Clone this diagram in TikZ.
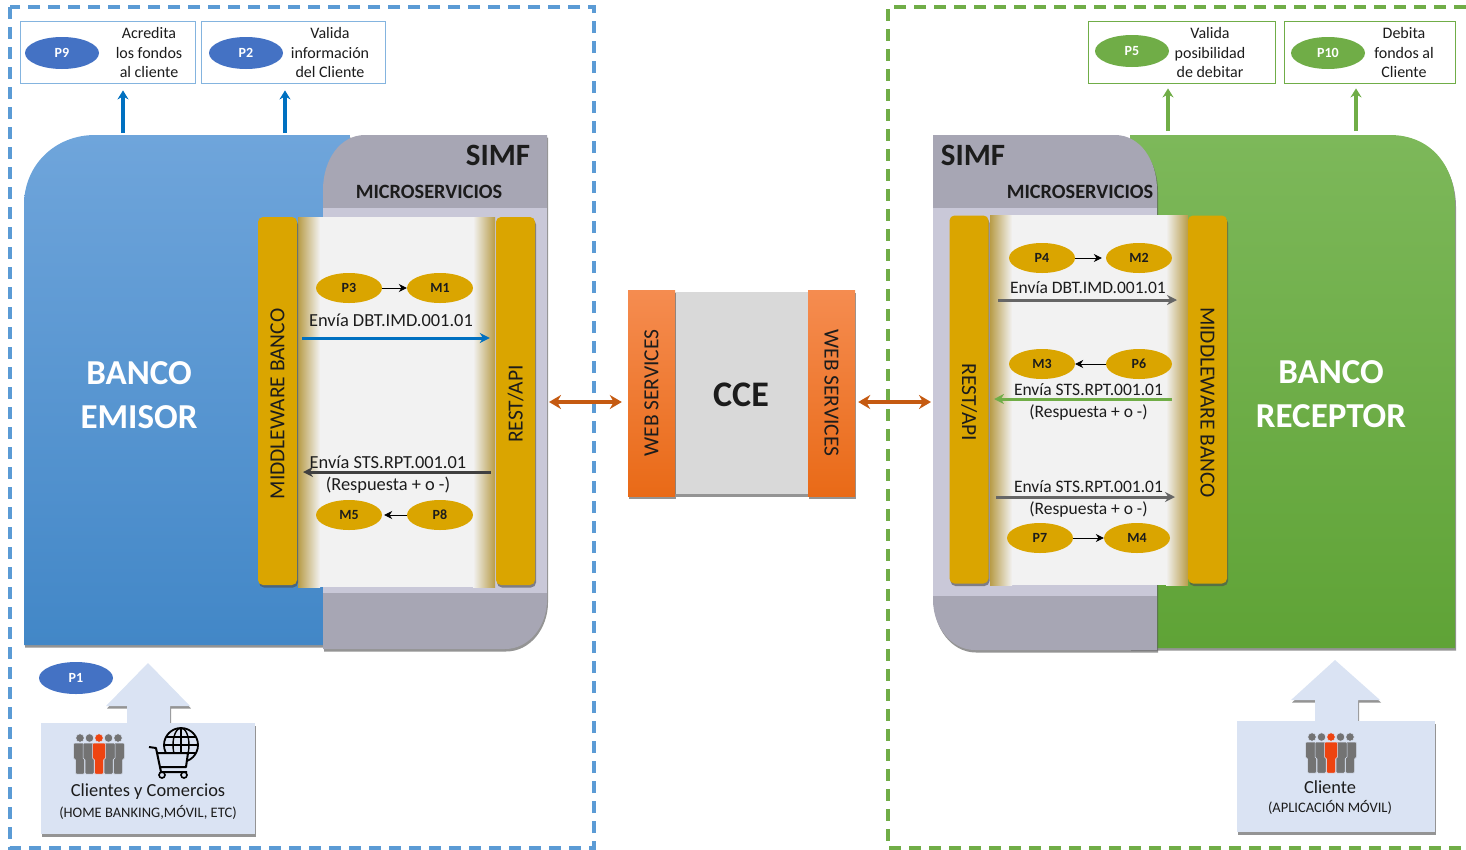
\documentclass[tikz,border=0pt]{standalone}
\usepackage{fontspec}
\setmainfont{Carlito}
\usetikzlibrary{arrows.meta,shapes.geometric,shadows}

\definecolor{gold}{HTML}{DAA500}
\definecolor{goldedge}{HTML}{B89C48}
\definecolor{greyband}{HTML}{A7A6B4}
\definecolor{lightband}{HTML}{C9C8D8}
\definecolor{paleblue}{HTML}{DAE3F3}
\definecolor{dashblue}{HTML}{5B9BD5}
\definecolor{dashgreen}{HTML}{70AD47}
\definecolor{procblue}{HTML}{4472C4}
\definecolor{arrowblue}{HTML}{0070C0}
\definecolor{rust}{HTML}{C55A11}
\definecolor{ink}{HTML}{1C1C1C}
\definecolor{bluetop}{HTML}{6FA5DB}
\definecolor{bluelow}{HTML}{4287C7}
\definecolor{greentop}{HTML}{7DB85A}
\definecolor{greenlow}{HTML}{5FA336}
\definecolor{wstop}{HTML}{F58C50}
\definecolor{wslow}{HTML}{E96A17}
\definecolor{redman}{HTML}{EE4411}

\tikzset{
  softshadow/.style={drop shadow={shadow xshift=1pt,shadow yshift=-2.5pt,opacity=.6,fill=black!70}},
  frameline/.style={line width=3.5pt,dash pattern=on 12pt off 8pt},
  stepbox/.style={draw,fill=white,line width=.8pt,inner sep=0pt},
  proc/.style={ellipse,inner sep=0pt,minimum width=74pt,minimum height=32pt,text=white,font=\fontsize{14}{16}\selectfont\bfseries},
  msg/.style={ellipse,fill=gold,inner sep=0pt,minimum width=66pt,minimum height=30pt,text=ink,font=\fontsize{14}{16}\selectfont\bfseries},
  txt/.style={text=ink,align=center,inner sep=0pt,font=\fontsize{16}{19.5}\selectfont},
  flow/.style={text=ink,align=center,inner sep=0pt,font=\fontsize{18.4}{22}\selectfont},
  flowr/.style={flow,font=\fontsize{17.5}{21.5}\selectfont},
  bigbank/.style={text=white,inner sep=0pt,font=\fontsize{35}{44}\selectfont\bfseries,align=center},
  head/.style={text=ink,inner sep=0pt,font=\fontsize{20.3}{25}\selectfont\bfseries},
  barbox/.style={fill=gold,rounded corners=5pt,inner sep=0pt,minimum width=368pt,minimum height=39pt,softshadow,text=ink,font=\fontsize{21.5}{24}\selectfont},
  wsbox/.style={top color=wstop,bottom color=wslow,inner sep=0pt,minimum width=206pt,minimum height=47pt,text=ink,softshadow,font=\fontsize{21.5}{24}\selectfont},
  upflow/.style={-{Stealth[length=9pt,width=11pt]},line width=3.4pt},
  thinflow/.style={-{Stealth[length=8pt,width=8pt]},black,line width=.9pt},
  midflow/.style={-{Stealth[length=10pt,width=10pt]},line width=3pt},
  bothflow/.style={{Stealth[length=12pt,width=14pt]}-{Stealth[length=12pt,width=14pt]},rust,line width=3.6pt},
  oneman/.pic={
    \fill[pic actions] (0,-16) circle (4.2);
    \path[pic actions,rounded corners=1pt] (-6.5,-11) -- (6.5,-11) -- (6.5,5) -- (4.5,5) -- (4.5,20)
      -- (-4.5,20) -- (-4.5,5) -- (-6.5,5) -- cycle;
  },
  people/.pic={
    \foreach \dx in {-19,19,-9.5,9.5} {
      \pic[fill=black!55,draw=paleblue,line width=.5pt] at (\dx,0) {oneman};
    }
    \pic[fill=redman,draw=paleblue,line width=.5pt] at (0,0) {oneman};
  },
  webcart/.pic={
    \draw[line width=1.8pt] (0,-9) circle (17);
    \draw[line width=1.4pt] (0,-9) ellipse [x radius=8,y radius=17];
    \draw[line width=1.4pt] (0,-26) -- (0,8) (-15,-17) -- (15,-17) (-17,-9) -- (17,-9) (-15,-1) -- (15,-1);
    \fill[paleblue] (-22,-1) rectangle (7,14);
    \draw[line width=2pt,line join=round] (-32,-7) -- (-25,-6) -- (-20,18) -- (6,18) (-23,-1) -- (7,-1) -- (5,13) -- (-21,13);
    \draw[line width=1.6pt] (-19,21) circle (3) (3,21) circle (3);
  }
}

\begin{document}
\begin{tikzpicture}[x=1pt,y=-1pt]
  \useasboundingbox (0,0) rectangle (1466,849);

  % dashed frames
  \draw[frameline,dashblue] (10,7) rectangle (594,848);
  \draw[frameline,dashgreen] (1466,7) -- (888,7) -- (888,848) -- (1466,848);

  % emisor side
  \path[softshadow,top color=bluetop,bottom color=bluelow]
    (24,645) -- (24,205) .. controls (24,165) and (55,135) .. (95,135) -- (350,135) -- (350,645) -- cycle;
  \path[fill=greyband,softshadow] (323,190) .. controls (323,160) and (340,135) .. (365,135) -- (547,135)
    -- (547,600) .. controls (547,625) and (530,649) .. (505,649) -- (323,649) -- cycle;
  \fill[lightband] (323,208) rectangle (547,593);
  \fill[black!5] (298,217) rectangle (495,587);
  \shade[left color=goldedge,right color=black!5] (298,217) rectangle (320,587);
  \shade[right color=goldedge,left color=black!5] (473,217) rectangle (495,587);

  % receptor side
  \path[softshadow,top color=greentop,bottom color=greenlow]
    (1130,648) -- (1130,135) -- (1390,135) .. controls (1430,135) and (1455,165) .. (1455,205) -- (1455,648) -- cycle;
  \path[fill=greyband,softshadow] (1157,190) .. controls (1157,160) and (1140,135) .. (1115,135) -- (933,135)
    -- (933,600) .. controls (933,625) and (950,650) .. (975,650) -- (1157,650) -- cycle;
  \fill[lightband] (933,208) rectangle (1157,596);
  \fill[black!5] (990,215) rectangle (1188,585);
  \shade[left color=goldedge,right color=black!5] (990,215) rectangle (1012,585);
  \shade[right color=goldedge,left color=black!5] (1166,215) rectangle (1188,585);

  % bank titles
  \node[bigbank] (emisor) at (139,395) {BANCO\\[-.5pt]EMISOR};
  \node[bigbank] (receptor) at (1331,394) {BANCO\\[-.5pt]RECEPTOR};
  \node[head,font=\fontsize{31}{36}\selectfont\bfseries] (simfE) at (498,155) {SIMF};
  \node[head,font=\fontsize{31}{36}\selectfont\bfseries] (simfR) at (973,155) {SIMF};
  \node[head] (microE) at (429,192) {MICROSERVICIOS};
  \node[head] (microR) at (1080,192) {MICROSERVICIOS};

  % bars
  \node[barbox,rotate=90] (mwE) at (277.5,401) {MIDDLEWARE BANCO\hspace*{6pt}};
  \node[barbox,rotate=90] (restE) at (515.5,401) {REST/API\hspace*{6pt}};
  \node[barbox,rotate=-90] (restR) at (969,399.5) {\hspace*{6pt}REST/API};
  \node[barbox,rotate=-90] (mwR) at (1207.5,399.5) {\hspace*{6pt}MIDDLEWARE BANCO};

  % top boxes
  \node[stepbox,draw=dashblue!75!white,minimum width=175pt,minimum height=62pt] (boxNine) at (107.5,52) {};
  \node[stepbox,draw=dashblue!75!white,minimum width=184pt,minimum height=62pt] (boxTwo) at (293,52) {};
  \node[stepbox,draw=dashgreen,minimum width=187pt,minimum height=62pt] (boxFive) at (1181.5,52) {};
  \node[stepbox,draw=dashgreen,minimum width=171pt,minimum height=62pt] (boxTen) at (1369.5,52) {};
  \foreach \name/\lbl/\px/\py/\col in {
    pNine/P9/62/53/procblue, pTwo/P2/246/53/procblue,
    pFive/P5/1132/51/dashgreen, pTen/P10/1328/53/dashgreen,
    pOne/P1/76/678/procblue} {
    \node[proc,fill=\col] (\name) at (\px,\py) {\lbl};
  }
  \node[txt] (tNine) at (149,53) {Acredita\\los fondos\\al cliente};
  \node[txt] (tTwo) at (330,53) {Valida\\información\\del Cliente};
  \node[txt] (tFive) at (1210,53) {Valida\\posibilidad\\de debitar};
  \node[txt] (tTen) at (1404,53) {Debita\\fondos al\\Cliente};

  \coordinate (upNine) at (123,133);
  \coordinate (upTwo) at (285,133);
  \coordinate (upFive) at (1168,131);
  \coordinate (upTen) at (1356,131);
  \draw[upflow,arrowblue,shorten >=7pt] (upNine) -- (boxNine.south -| upNine);
  \draw[upflow,arrowblue,shorten >=7pt] (upTwo) -- (boxTwo.south -| upTwo);
  \draw[upflow,dashgreen,shorten >=5pt] (upFive) -- (boxFive.south -| upFive);
  \draw[upflow,dashgreen,shorten >=5pt] (upTen) -- (boxTen.south -| upTen);

  % messages
  \foreach \name/\lbl/\px/\py in {
    pThree/P3/349/288, mOne/M1/440/288, mFive/M5/349/515, pEight/P8/440/515,
    pFour/P4/1042/258, mTwo/M2/1139/258, mThree/M3/1042/364, pSix/P6/1139/364,
    pSeven/P7/1040/538, mFour/M4/1137/538} {
    \node[msg] (\name) at (\px,\py) {\lbl};
  }
  \draw[thinflow] (pThree) -- (mOne);
  \draw[thinflow,shorten >=2pt] (pEight) -- (mFive);
  \draw[thinflow,shorten >=4pt] (pFour) -- (mTwo);
  \draw[thinflow] (pSix) -- (mThree);
  \draw[thinflow] (pSeven) -- (mFour);

  \node[flow] (sendE) at (391,320) {Envía DBT.IMD.001.01};
  \node[flow] (backE) at (388,475) {Envía STS.RPT.001.01\\(Respuesta + o -)};
  \node[flowr] (sendR) at (1088,288) {Envía DBT.IMD.001.01};
  \node[flowr] (backR) at (1088.5,402) {Envía STS.RPT.001.01\\(Respuesta + o -)};
  \node[flowr] (ansR) at (1088.5,499) {Envía STS.RPT.001.01\\(Respuesta + o -)};

  \coordinate (mwEa) at (302,338);
  \coordinate (mwEb) at (303,472);
  \coordinate (mwRa) at (1177,300);
  \coordinate (mwRb) at (1172,399);
  \coordinate (mwRc) at (1175,497);
  \draw[midflow,arrowblue,shorten >=6pt] (mwEa) -- (mwEa -| restE.north);
  \draw[midflow,black!75,shorten <=5pt] (mwEb -| restE.north) -- (mwEb);
  \draw[midflow,black!60] (998,300) -- (mwRa);
  \draw[midflow,dashgreen] (mwRb) -- (994,399);
  \draw[midflow,black!60] (996,497) -- (mwRc);

  % switch
  \node[fill=black!15,inner sep=0pt,minimum width=133pt,minimum height=202pt,softshadow] (cce) at (741.5,393) {};
  \node[wsbox,rotate=90] (wsE) at (651.5,393) {WEB SERVICES};
  \node[wsbox,rotate=-90] (wsR) at (831.5,393) {WEB SERVICES};
  \node[text=ink,inner sep=0pt,font=\fontsize{36}{40}\selectfont\bfseries] (cceLabel) at (741,395) {CCE};

  \coordinate (edgeE) at (549,402);
  \coordinate (edgeR) at (931,402);
  \draw[bothflow,shorten >=6pt] (edgeE) -- (edgeE -| wsE.north);
  \draw[bothflow,shorten <=3pt] (edgeR -| wsR.north) -- (edgeR);

  % channels
  \path[fill=paleblue,softshadow] (148,663) -- (190,706) -- (170,706) -- (170,725) -- (127,725) -- (127,706) -- (106,706) -- cycle;
  \node[fill=paleblue,inner sep=0pt,minimum width=214pt,minimum height=111pt,softshadow] (chanE) at (148,778.5) {};
  \path[fill=paleblue,softshadow] (1335,660) -- (1380,700) -- (1358,700) -- (1358,723) -- (1315,723) -- (1315,700) -- (1291,700) -- cycle;
  \node[fill=paleblue,inner sep=0pt,minimum width=198pt,minimum height=111pt,softshadow] (chanR) at (1336,776.5) {};

  \pic at (99,754) {people};
  \pic at (181,754) {webcart};
  \pic at (1331,753) {people};

  \node[txt,font=\fontsize{18.4}{21}\selectfont] (cliE) at (148,792) {Clientes y Comercios};
  \node[txt,font=\fontsize{14.5}{16}\selectfont] (homeE) at (148,812) {(HOME BANKING,MÓVIL, ETC)};
  \node[txt,font=\fontsize{18.4}{21}\selectfont] (cliR) at (1330,787) {Cliente};
  \node[txt,font=\fontsize{14.5}{16}\selectfont] (appR) at (1330,807) {(APLICACIÓN MÓVIL)};
\end{tikzpicture}
\end{document}
